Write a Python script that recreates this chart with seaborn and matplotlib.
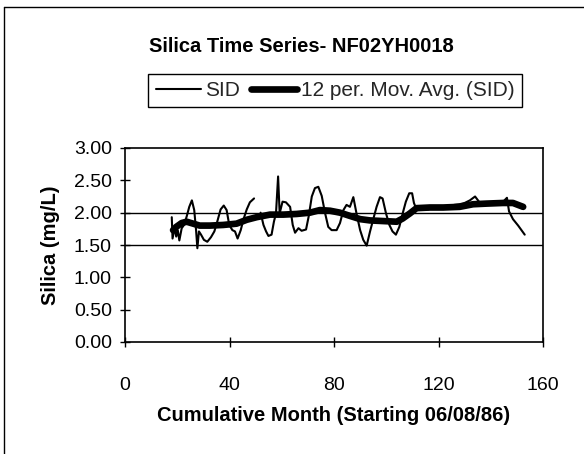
import numpy as np
import pandas as pd
import matplotlib
matplotlib.use("Agg")
import matplotlib.pyplot as plt
from matplotlib.lines import Line2D
import seaborn as sns

# ---- data ----
sid_month = [17.9, 18.2, 19.0, 19.6, 20.2, 20.8, 21.7, 22.6, 23.6, 24.6, 25.6, 26.5, 27.2, 27.7,
             28.3, 29.1, 30.2, 31.5, 32.9, 34.2, 35.3, 36.6, 37.8, 38.9, 39.9, 41.1, 42.1, 43.1,
             44.3, 45.3, 46.6, 47.8, 49.4,
             51.9, 53.0, 54.0, 54.9, 56.1, 57.0, 57.8, 58.6, 59.2, 60.3, 61.6, 63.2, 64.2, 65.1,
             66.4, 67.6, 69.3, 70.3, 71.5, 72.7, 74.0, 75.3, 76.6, 77.8, 79.1, 81.0, 82.3, 83.6,
             84.8, 86.1, 87.4, 88.7, 90.0, 91.2, 92.5, 93.8, 95.1, 96.3, 97.6, 98.6, 99.9, 101.2,
             102.4, 103.7, 105.0, 106.3, 107.5, 108.8, 109.9, 110.6, 111.4, 112.5, 114.0, 116.0,
             118.0, 120.0, 122.0, 124.0, 126.0, 128.0, 130.0, 132.0, 134.0, 135.5, 137.0, 139.0,
             141.0, 143.0, 145.0, 146.2, 147.0, 148.5, 150.5, 153.0]
sid_value = [1.93, 1.60, 1.77, 1.63, 1.73, 1.57, 1.76, 1.81, 1.94, 2.09, 2.19, 2.04, 1.73, 1.45,
             1.71, 1.66, 1.58, 1.55, 1.62, 1.71, 1.86, 2.05, 2.11, 2.04, 1.81, 1.73, 1.71, 1.60,
             1.73, 1.89, 2.05, 2.16, 2.22,
             2.00, 1.81, 1.71, 1.64, 1.66, 1.86, 1.99, 2.56, 1.99, 2.17, 2.16, 2.09, 1.81, 1.69,
             1.76, 1.72, 1.74, 1.94, 2.25, 2.38, 2.40, 2.26, 1.99, 1.78, 1.73, 1.73, 1.84, 2.04,
             2.12, 2.09, 2.24, 1.97, 1.73, 1.58, 1.49, 1.71, 1.91, 2.09, 2.24, 2.22, 1.99, 1.81,
             1.71, 1.66, 1.78, 1.99, 2.17, 2.30, 2.30, 2.15, 2.07, 2.05, 2.06, 2.05,
             2.07, 2.06, 2.08, 2.10, 2.12, 2.13, 2.15, 2.19, 2.25, 2.17, 2.13, 2.14,
             2.15, 2.16, 2.18, 2.23, 2.02, 1.90, 1.80, 1.66]
sid_segment = [1] * 33 + [2] * (len(sid_month) - 33)

ma_month = [18.4, 19.6, 21.7, 23.6, 26.1, 28.6, 32.5, 37.6, 42.7, 46.6, 50.4, 55.5, 60.6, 65.7,
            70.8, 74.6, 78.5, 82.3, 86.1, 90.0, 93.8, 98.9, 104.0, 106.3, 109.1, 111.6, 116.7,
            121.8, 128.1, 133.2, 138.3, 144.7, 148.5, 152.4]
ma_value = [1.73, 1.78, 1.84, 1.86, 1.83, 1.80, 1.80, 1.81, 1.83, 1.89, 1.93, 1.97, 1.97, 1.98,
            2.00, 2.04, 2.03, 2.00, 1.95, 1.90, 1.88, 1.87, 1.86, 1.91, 1.99, 2.07, 2.08,
            2.08, 2.09, 2.13, 2.14, 2.15, 2.15, 2.09]

x_ticks = [0, 40, 80, 120, 160]
y_ticks = [0.0, 0.5, 1.0, 1.5, 2.0, 2.5, 3.0]
ref_lines = [1.5, 2.0]

title = "Silica Time Series- NF02YH0018"
xlabel = "Cumulative Month (Starting 06/08/86)"
ylabel = "Silica (mg/L)"
sid_label = "SID"
ma_label = "12 per. Mov. Avg. (SID)"

sid_df = pd.DataFrame({"month": sid_month, "value": sid_value, "seg": sid_segment})
ma_df = pd.DataFrame({"month": ma_month, "value": ma_value})

# ---- plot ----
sns.set_theme(style="white")
plt.rcParams["font.family"] = ["Liberation Sans", "DejaVu Sans"]

fig = plt.figure(figsize=(5.84, 4.54), dpi=100)
ax = fig.add_axes([125 / 584, 1 - 342 / 454, 418 / 584, 194 / 454])

for y in ref_lines:
    ax.axhline(y, color="black", lw=1.0, zorder=1)

sns.lineplot(data=sid_df, x="month", y="value", units="seg", estimator=None,
             color="black", lw=1.5, ax=ax, zorder=3)
sns.lineplot(data=ma_df, x="month", y="value", color="black", lw=4.8, ax=ax, zorder=4)

ax.set_xlim(0, 160)
ax.set_ylim(0, 3)
ax.set_xticks(x_ticks)
ax.set_xticklabels([str(t) for t in x_ticks])
ax.set_yticks(y_ticks)
ax.set_yticklabels([f"{t:.2f}" for t in y_ticks])
ax.tick_params(axis="both", direction="inout", length=7, width=1, color="black",
               labelsize=14, labelcolor="black", bottom=True, left=True)
ax.tick_params(axis="y", pad=6)
ax.tick_params(axis="x", pad=22)

for s in ["left", "bottom"]:
    ax.spines[s].set_color("black")
    ax.spines[s].set_linewidth(1.2)
for s in ["top", "right"]:
    ax.spines[s].set_color("black")
    ax.spines[s].set_linewidth(1.2)
    ax.spines[s].set_linestyle((0, (1, 1)))

ax.set_xlabel(xlabel, fontsize=14.5, fontweight="bold", color="black", labelpad=8)
ax.set_ylabel(ylabel, fontsize=14.5, fontweight="bold", color="black", labelpad=10)
if ax.get_legend() is not None:
    ax.get_legend().remove()

fig.text(301 / 584, 1 - 47 / 454, title, fontsize=14.5, fontweight="bold",
         ha="center", va="center", color="black")

handles = [Line2D([], [], color="black", lw=1.5), Line2D([], [], color="black", lw=4.8)]
leg = fig.legend(handles, [sid_label, ma_label], loc="center",
                 bbox_to_anchor=(335 / 584, 1 - 90.5 / 454), ncol=2, fontsize=15,
                 frameon=True, fancybox=False, edgecolor="black", framealpha=1,
                 handlelength=2.2, handletextpad=0.2, columnspacing=0.5,
                 borderpad=0.35, borderaxespad=0)
leg.get_frame().set_linewidth(1.0)

# outer chart border (top and left edges visible in the reference)
fig.add_artist(Line2D([4 / 584, 1], [1 - 7 / 454, 1 - 7 / 454], color="black", lw=1.0,
                      transform=fig.transFigure))
fig.add_artist(Line2D([4 / 584, 4 / 584], [0, 1 - 7 / 454], color="black", lw=1.0,
                      transform=fig.transFigure))

fig.savefig("out.png", dpi=100, facecolor="white")
